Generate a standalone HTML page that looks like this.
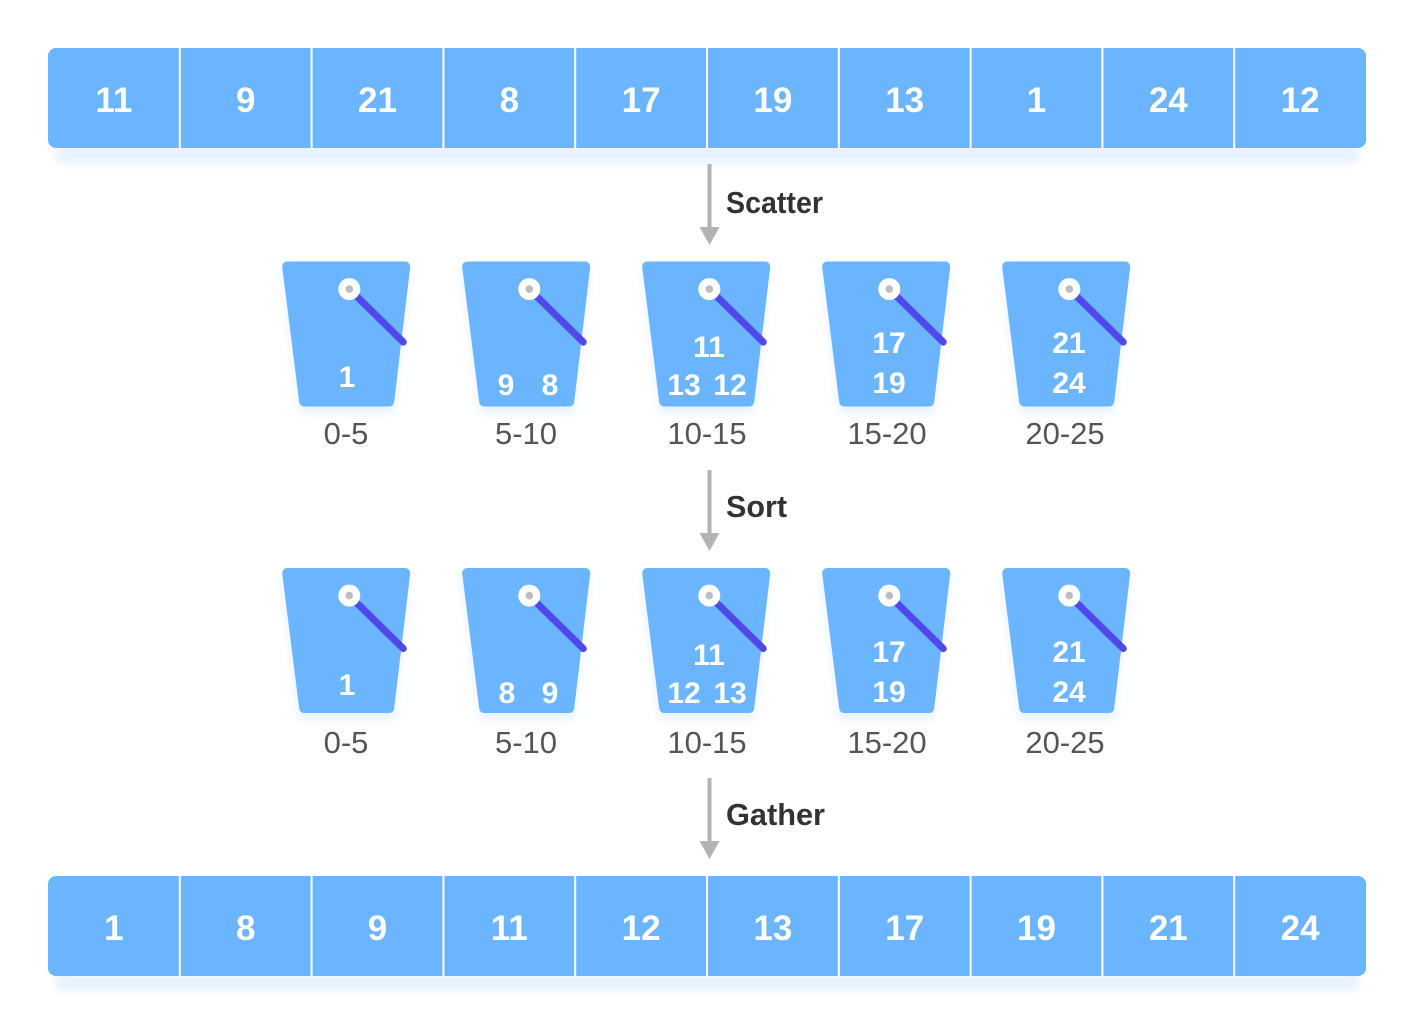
<!DOCTYPE html>
<html><head><meta charset="utf-8"><style>
html,body{margin:0;padding:0;background:#fff;}
svg{display:block;}
.an{font-family:"Liberation Sans",sans-serif;font-weight:bold;font-size:35px;fill:#fff;text-anchor:middle;}
.bn{font-family:"Liberation Sans",sans-serif;font-weight:bold;font-size:30px;fill:#fff;text-anchor:middle;}
.lb{font-family:"Liberation Sans",sans-serif;font-size:31px;fill:#555;text-anchor:middle;}
.hd{font-family:"Liberation Sans",sans-serif;font-weight:bold;font-size:31px;fill:#333;}
</style></head><body>
<svg width="1414" height="1024" viewBox="0 0 1414 1024" xmlns="http://www.w3.org/2000/svg">
<defs>
<filter id="blur" x="-10%" y="-100%" width="120%" height="300%"><feGaussianBlur stdDeviation="5"/></filter>
<filter id="blur2" x="-30%" y="-100%" width="160%" height="300%"><feGaussianBlur stdDeviation="5"/></filter>
<g id="bucket">
  <polygon points="-0.5,8 128.5,8 111.8,152 17.8,152" fill="#e8f1ff" filter="url(#blur2)"/>
  <polygon points="5.5,5 123.5,5 107.5,140 22.5,140" fill="#6bb4fe" stroke="#6bb4fe" stroke-width="10" stroke-linejoin="round"/>
  <line x1="67.6" y1="27.6" x2="121.6" y2="80.6" stroke="#5048e8" stroke-width="7" stroke-linecap="round"/>
  <circle cx="67.6" cy="27.6" r="11" fill="#fff"/>
  <circle cx="67.6" cy="27.6" r="3.8" fill="#bdbdbd"/>
</g>
</defs>

<!-- top array -->
<rect x="56" y="146" width="1302" height="16" fill="#e4efff" filter="url(#blur)"/>
<rect x="48" y="48" width="1318" height="100" rx="8" fill="#6bb4fe"/>
<g stroke="#fff" stroke-width="2">
<line x1="179.8" y1="48" x2="179.8" y2="148"/><line x1="311.6" y1="48" x2="311.6" y2="148"/><line x1="443.4" y1="48" x2="443.4" y2="148"/><line x1="575.2" y1="48" x2="575.2" y2="148"/><line x1="707" y1="48" x2="707" y2="148"/><line x1="838.8" y1="48" x2="838.8" y2="148"/><line x1="970.6" y1="48" x2="970.6" y2="148"/><line x1="1102.4" y1="48" x2="1102.4" y2="148"/><line x1="1234.2" y1="48" x2="1234.2" y2="148"/>
</g>
<g class="an">
<text x="113.9" y="112">11</text><text x="245.7" y="112">9</text><text x="377.5" y="112">21</text><text x="509.3" y="112">8</text><text x="641.1" y="112">17</text><text x="772.9" y="112">19</text><text x="904.7" y="112">13</text><text x="1036.5" y="112">1</text><text x="1168.3" y="112">24</text><text x="1300.1" y="112">12</text>
</g>

<!-- Scatter arrow -->
<line x1="709.5" y1="164" x2="709.5" y2="229" stroke="#b3b3b3" stroke-width="4"/>
<polygon points="699.5,227 719.5,227 709.5,245" fill="#b3b3b3"/>
<text class="hd" x="726" y="213" textLength="97" lengthAdjust="spacingAndGlyphs">Scatter</text>

<!-- row 1 buckets -->
<use href="#bucket" x="281.7" y="261.5"/>
<use href="#bucket" x="461.7" y="261.5"/>
<use href="#bucket" x="641.7" y="261.5"/>
<use href="#bucket" x="821.7" y="261.5"/>
<use href="#bucket" x="1001.7" y="261.5"/>
<g class="bn">
<text x="347" y="387">1</text>
<text x="506" y="395">9</text><text x="550" y="395">8</text>
<text x="709" y="357">11</text>
<text x="684" y="395">13</text><text x="730" y="395">12</text>
<text x="889" y="353">17</text><text x="889" y="393">19</text>
<text x="1069" y="353">21</text><text x="1069" y="393">24</text>
</g>
<g class="lb">
<text x="346" y="444">0-5</text><text x="526" y="444">5-10</text><text x="707" y="444">10-15</text><text x="887" y="444">15-20</text><text x="1065" y="444">20-25</text>
</g>

<!-- Sort arrow -->
<line x1="709.5" y1="470" x2="709.5" y2="535" stroke="#b3b3b3" stroke-width="4"/>
<polygon points="699.5,533 719.5,533 709.5,551" fill="#b3b3b3"/>
<text class="hd" x="726" y="517" textLength="61" lengthAdjust="spacingAndGlyphs">Sort</text>

<!-- row 2 buckets -->
<use href="#bucket" x="281.7" y="568"/>
<use href="#bucket" x="461.7" y="568"/>
<use href="#bucket" x="641.7" y="568"/>
<use href="#bucket" x="821.7" y="568"/>
<use href="#bucket" x="1001.7" y="568"/>
<g class="bn">
<text x="347" y="695">1</text>
<text x="507" y="703">8</text><text x="550" y="703">9</text>
<text x="709" y="665">11</text>
<text x="684" y="703">12</text><text x="730" y="703">13</text>
<text x="889" y="662">17</text><text x="889" y="702">19</text>
<text x="1069" y="662">21</text><text x="1069" y="702">24</text>
</g>
<g class="lb">
<text x="346" y="753">0-5</text><text x="526" y="753">5-10</text><text x="707" y="753">10-15</text><text x="887" y="753">15-20</text><text x="1065" y="753">20-25</text>
</g>

<!-- Gather arrow -->
<line x1="709.5" y1="778" x2="709.5" y2="843" stroke="#b3b3b3" stroke-width="4"/>
<polygon points="699.5,841 719.5,841 709.5,859" fill="#b3b3b3"/>
<text class="hd" x="726" y="825" textLength="99" lengthAdjust="spacingAndGlyphs">Gather</text>

<!-- bottom array -->
<rect x="56" y="974" width="1302" height="16" fill="#e4efff" filter="url(#blur)"/>
<rect x="48" y="876" width="1318" height="100" rx="8" fill="#6bb4fe"/>
<g stroke="#fff" stroke-width="2">
<line x1="179.8" y1="876" x2="179.8" y2="976"/><line x1="311.6" y1="876" x2="311.6" y2="976"/><line x1="443.4" y1="876" x2="443.4" y2="976"/><line x1="575.2" y1="876" x2="575.2" y2="976"/><line x1="707" y1="876" x2="707" y2="976"/><line x1="838.8" y1="876" x2="838.8" y2="976"/><line x1="970.6" y1="876" x2="970.6" y2="976"/><line x1="1102.4" y1="876" x2="1102.4" y2="976"/><line x1="1234.2" y1="876" x2="1234.2" y2="976"/>
</g>
<g class="an">
<text x="113.9" y="940">1</text><text x="245.7" y="940">8</text><text x="377.5" y="940">9</text><text x="509.3" y="940">11</text><text x="641.1" y="940">12</text><text x="772.9" y="940">13</text><text x="904.7" y="940">17</text><text x="1036.5" y="940">19</text><text x="1168.3" y="940">21</text><text x="1300.1" y="940">24</text>
</g>
</svg>
</body></html>
